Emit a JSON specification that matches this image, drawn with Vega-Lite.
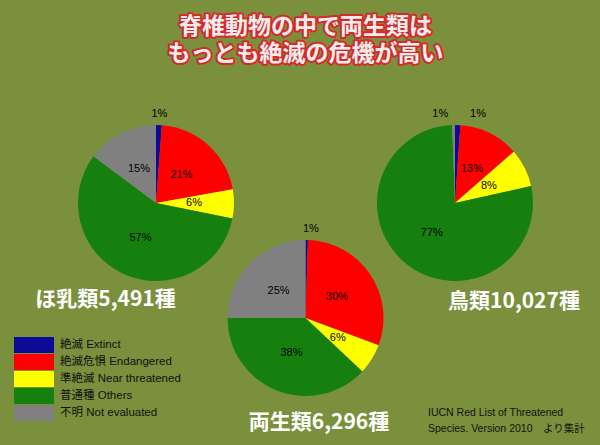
{
  "$schema": "https://vega.github.io/schema/vega-lite/v6.json",
  "width": 600,
  "height": 445,
  "autosize": "none",
  "padding": 0,
  "background": "#7a903c",
  "config": {"view": {"stroke": null}, "font": "Noto Sans CJK JP"},
  "datasets": {
    "pie": [
      {"species": "ほ乳類", "cat": "絶滅 Extinct", "k": 1, "v": 1.2, "lbl": "1%"},
      {"species": "ほ乳類", "cat": "絶滅危惧 Endangered", "k": 2, "v": 21, "lbl": "21%"},
      {"species": "ほ乳類", "cat": "準絶滅 Near threatened", "k": 3, "v": 6, "lbl": "6%"},
      {"species": "ほ乳類", "cat": "普通種 Others", "k": 4, "v": 57, "lbl": "57%"},
      {"species": "ほ乳類", "cat": "不明 Not evaluated", "k": 5, "v": 14.8, "lbl": "15%"},
      {"species": "鳥類", "cat": "絶滅 Extinct", "k": 1, "v": 1.1, "lbl": "1%"},
      {"species": "鳥類", "cat": "絶滅危惧 Endangered", "k": 2, "v": 12.5, "lbl": "13%"},
      {"species": "鳥類", "cat": "準絶滅 Near threatened", "k": 3, "v": 7.9, "lbl": "8%"},
      {"species": "鳥類", "cat": "普通種 Others", "k": 4, "v": 77.9, "lbl": "77%"},
      {"species": "鳥類", "cat": "不明 Not evaluated", "k": 5, "v": 0.6, "lbl": "1%"},
      {"species": "両生類", "cat": "絶滅 Extinct", "k": 1, "v": 0.5, "lbl": "1%"},
      {"species": "両生類", "cat": "絶滅危惧 Endangered", "k": 2, "v": 30.2, "lbl": "30%"},
      {"species": "両生類", "cat": "準絶滅 Near threatened", "k": 3, "v": 6.3, "lbl": "6%"},
      {"species": "両生類", "cat": "普通種 Others", "k": 4, "v": 38, "lbl": "38%"},
      {"species": "両生類", "cat": "不明 Not evaluated", "k": 5, "v": 25, "lbl": "25%"}
    ],
    "groups": [
      {"species": "ほ乳類", "label": "ほ乳類5,491種"},
      {"species": "両生類", "label": "両生類6,296種"},
      {"species": "鳥類", "label": "鳥類10,027種"}
    ]
  },
  "layer": [
    {
      "data": {"values": [{}]},
      "mark": {"type": "text", "text": ["脊椎動物の中で両生類は", "もっとも絶滅の危機が高い"], "font": "Noto Sans CJK JP", "fontSize": 23, "fontWeight": "bold", "lineHeight": 27, "align": "center", "baseline": "middle", "dy": -176.5, "fill": "#d42a2a", "stroke": "#d42a2a", "strokeWidth": 4, "strokeJoin": "round"},
      "encoding": {
        "x": {"datum": "両生類", "type": "nominal", "scale": {"type": "point", "domain": ["ほ乳類", "両生類", "鳥類"], "range": [156, 455], "padding": 0}, "axis": null},
        "y": {"datum": "上段", "type": "nominal", "scale": {"type": "point", "domain": ["上段", "下段"], "range": [203, 318], "padding": 0}, "axis": null}
      }
    },
    {
      "data": {"values": [{}]},
      "mark": {"type": "text", "text": ["脊椎動物の中で両生類は", "もっとも絶滅の危機が高い"], "font": "Noto Sans CJK JP", "fontSize": 23, "fontWeight": "bold", "lineHeight": 27, "align": "center", "baseline": "middle", "dy": -176.5, "fill": "#f3ecec"},
      "encoding": {
        "x": {"datum": "両生類", "type": "nominal", "scale": {"type": "point", "domain": ["ほ乳類", "両生類", "鳥類"], "range": [156, 455], "padding": 0}, "axis": null},
        "y": {"datum": "上段", "type": "nominal", "scale": {"type": "point", "domain": ["上段", "下段"], "range": [203, 318], "padding": 0}, "axis": null}
      }
    },
    {
      "data": {"name": "pie"},
      "transform": [{"filter": "datum.species === 'ほ乳類'"}],
      "encoding": {
        "x": {"field": "species", "type": "nominal", "scale": {"type": "point", "domain": ["ほ乳類", "両生類", "鳥類"], "range": [156, 455], "padding": 0}, "axis": null},
        "y": {"datum": "上段", "type": "nominal", "scale": {"type": "point", "domain": ["上段", "下段"], "range": [203, 318], "padding": 0}, "axis": null},
        "theta": {"field": "v", "type": "quantitative", "stack": true},
        "order": {"field": "k", "type": "quantitative"}
      },
      "layer": [
        {
          "mark": {"type": "arc", "outerRadius": 78},
          "encoding": {
            "color": {"field": "cat", "type": "nominal", "scale": {"domain": ["絶滅 Extinct", "絶滅危惧 Endangered", "準絶滅 Near threatened", "普通種 Others", "不明 Not evaluated"], "range": ["#0b0b96", "#ff0000", "#ffff00", "#15800e", "#808080"]},
              "legend": {"orient": "none", "legendX": 26, "legendY": 337, "title": null, "symbolType": "M-2.5,-1H2.5V1H-2.5Z", "symbolSize": 256, "symbolStrokeWidth": 0, "symbolOpacity": 1, "rowPadding": 1, "labelFont": "Liberation Sans, Noto Sans CJK JP", "labelFontSize": 11.5, "labelColor": "#111111", "labelOffset": 18, "padding": 0, "labelLimit": 300}}
          }
        },
        {
          "mark": {"type": "text", "radius": 38, "font": "Liberation Sans", "fontSize": 11, "color": "#000000"},
          "encoding": {"detail": {"field": "cat"}, "text": {"field": "lbl"}, "opacity": {"condition": {"test": "datum.v >= 3", "value": 1}, "value": 0}}
        },
        {
          "mark": {"type": "text", "radius": 89, "font": "Liberation Sans", "fontSize": 11, "color": "#000000"},
          "encoding": {"detail": {"field": "cat"}, "text": {"field": "lbl"}, "opacity": {"condition": {"test": "datum.v < 3", "value": 1}, "value": 0}}
        }
      ]
    },
    {
      "data": {"name": "pie"},
      "transform": [{"filter": "datum.species === '鳥類'"}],
      "encoding": {
        "x": {"field": "species", "type": "nominal", "scale": {"type": "point", "domain": ["ほ乳類", "両生類", "鳥類"], "range": [156, 455], "padding": 0}, "axis": null},
        "y": {"datum": "上段", "type": "nominal", "scale": {"type": "point", "domain": ["上段", "下段"], "range": [203, 318], "padding": 0}, "axis": null},
        "theta": {"field": "v", "type": "quantitative", "stack": true},
        "order": {"field": "k", "type": "quantitative"}
      },
      "layer": [
        {
          "mark": {"type": "arc", "outerRadius": 78},
          "encoding": {
            "color": {"field": "cat", "type": "nominal", "scale": {"domain": ["絶滅 Extinct", "絶滅危惧 Endangered", "準絶滅 Near threatened", "普通種 Others", "不明 Not evaluated"], "range": ["#0b0b96", "#ff0000", "#ffff00", "#15800e", "#808080"]},
              "legend": {"orient": "none", "legendX": 26, "legendY": 337, "title": null, "symbolType": "M-2.5,-1H2.5V1H-2.5Z", "symbolSize": 256, "symbolStrokeWidth": 0, "symbolOpacity": 1, "rowPadding": 1, "labelFont": "Liberation Sans, Noto Sans CJK JP", "labelFontSize": 11.5, "labelColor": "#111111", "labelOffset": 18, "padding": 0, "labelLimit": 300}}
          }
        },
        {
          "mark": {"type": "text", "radius": 38, "font": "Liberation Sans", "fontSize": 11, "color": "#000000"},
          "encoding": {"detail": {"field": "cat"}, "text": {"field": "lbl"}, "opacity": {"condition": {"test": "datum.v >= 3", "value": 1}, "value": 0}}
        },
        {
          "mark": {"type": "text", "radius": 89, "dx": -13, "font": "Liberation Sans", "fontSize": 11, "color": "#000000"},
          "encoding": {"detail": {"field": "cat"}, "text": {"field": "lbl"}, "opacity": {"condition": {"test": "datum.k === 5", "value": 1}, "value": 0}}
        },
        {
          "mark": {"type": "text", "radius": 89, "dx": 20, "font": "Liberation Sans", "fontSize": 11, "color": "#000000"},
          "encoding": {"detail": {"field": "cat"}, "text": {"field": "lbl"}, "opacity": {"condition": {"test": "datum.k === 1", "value": 1}, "value": 0}}
        }
      ]
    },
    {
      "data": {"name": "pie"},
      "transform": [{"filter": "datum.species === '両生類'"}],
      "encoding": {
        "x": {"field": "species", "type": "nominal", "scale": {"type": "point", "domain": ["ほ乳類", "両生類", "鳥類"], "range": [156, 455], "padding": 0}, "axis": null},
        "y": {"datum": "下段", "type": "nominal", "scale": {"type": "point", "domain": ["上段", "下段"], "range": [203, 318], "padding": 0}, "axis": null},
        "theta": {"field": "v", "type": "quantitative", "stack": true},
        "order": {"field": "k", "type": "quantitative"}
      },
      "layer": [
        {
          "mark": {"type": "arc", "outerRadius": 78},
          "encoding": {
            "color": {"field": "cat", "type": "nominal", "scale": {"domain": ["絶滅 Extinct", "絶滅危惧 Endangered", "準絶滅 Near threatened", "普通種 Others", "不明 Not evaluated"], "range": ["#0b0b96", "#ff0000", "#ffff00", "#15800e", "#808080"]},
              "legend": {"orient": "none", "legendX": 26, "legendY": 337, "title": null, "symbolType": "M-2.5,-1H2.5V1H-2.5Z", "symbolSize": 256, "symbolStrokeWidth": 0, "symbolOpacity": 1, "rowPadding": 1, "labelFont": "Liberation Sans, Noto Sans CJK JP", "labelFontSize": 11.5, "labelColor": "#111111", "labelOffset": 18, "padding": 0, "labelLimit": 300}}
          }
        },
        {
          "mark": {"type": "text", "radius": 38, "font": "Liberation Sans", "fontSize": 11, "color": "#000000"},
          "encoding": {"detail": {"field": "cat"}, "text": {"field": "lbl"}, "opacity": {"condition": {"test": "datum.v >= 3", "value": 1}, "value": 0}}
        },
        {
          "mark": {"type": "text", "radius": 89, "dx": 4, "font": "Liberation Sans", "fontSize": 11, "color": "#000000"},
          "encoding": {"detail": {"field": "cat"}, "text": {"field": "lbl"}, "opacity": {"condition": {"test": "datum.v < 3", "value": 1}, "value": 0}}
        }
      ]
    },
    {
      "data": {"name": "groups"},
      "transform": [{"filter": "datum.species === 'ほ乳類'"}],
      "mark": {"type": "text", "font": "Noto Sans CJK JP", "fontSize": 21, "fontWeight": "bold", "color": "#ffffff", "align": "center", "baseline": "middle", "dx": -50.5, "dy": 97},
      "encoding": {
        "x": {"field": "species", "type": "nominal", "scale": {"type": "point", "domain": ["ほ乳類", "両生類", "鳥類"], "range": [156, 455], "padding": 0}, "axis": null},
        "y": {"datum": "上段", "type": "nominal", "scale": {"type": "point", "domain": ["上段", "下段"], "range": [203, 318], "padding": 0}, "axis": null},
        "text": {"field": "label"}
      }
    },
    {
      "data": {"name": "groups"},
      "transform": [{"filter": "datum.species === '鳥類'"}],
      "mark": {"type": "text", "font": "Noto Sans CJK JP", "fontSize": 21, "fontWeight": "bold", "color": "#ffffff", "align": "center", "baseline": "middle", "dx": 59, "dy": 99},
      "encoding": {
        "x": {"field": "species", "type": "nominal", "scale": {"type": "point", "domain": ["ほ乳類", "両生類", "鳥類"], "range": [156, 455], "padding": 0}, "axis": null},
        "y": {"datum": "上段", "type": "nominal", "scale": {"type": "point", "domain": ["上段", "下段"], "range": [203, 318], "padding": 0}, "axis": null},
        "text": {"field": "label"}
      }
    },
    {
      "data": {"name": "groups"},
      "transform": [{"filter": "datum.species === '両生類'"}],
      "mark": {"type": "text", "font": "Noto Sans CJK JP", "fontSize": 21, "fontWeight": "bold", "color": "#ffffff", "align": "center", "baseline": "middle", "dx": 13.5, "dy": 105},
      "encoding": {
        "x": {"field": "species", "type": "nominal", "scale": {"type": "point", "domain": ["ほ乳類", "両生類", "鳥類"], "range": [156, 455], "padding": 0}, "axis": null},
        "y": {"datum": "下段", "type": "nominal", "scale": {"type": "point", "domain": ["上段", "下段"], "range": [203, 318], "padding": 0}, "axis": null},
        "text": {"field": "label"}
      }
    },
    {
      "data": {"values": [{}]},
      "mark": {"type": "text", "text": ["IUCN Red List of Threatened", " Species. Version 2010　より集計"], "font": "Liberation Sans, Noto Sans CJK JP", "fontSize": 10.5, "lineHeight": 16, "align": "left", "baseline": "middle", "dx": -27, "dy": 95, "color": "#111111"},
      "encoding": {
        "x": {"datum": "鳥類", "type": "nominal", "scale": {"type": "point", "domain": ["ほ乳類", "両生類", "鳥類"], "range": [156, 455], "padding": 0}, "axis": null},
        "y": {"datum": "下段", "type": "nominal", "scale": {"type": "point", "domain": ["上段", "下段"], "range": [203, 318], "padding": 0}, "axis": null}
      }
    }
  ]
}
